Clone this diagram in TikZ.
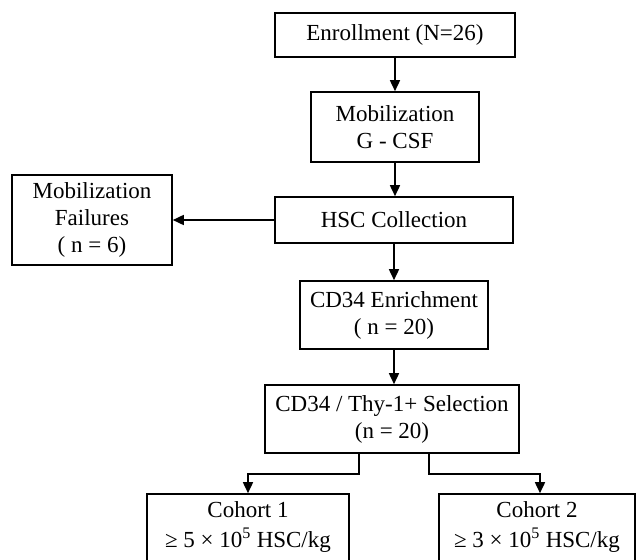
\documentclass[tikz,border=0pt]{standalone}
\usepackage{fontspec}
\setmainfont{Liberation Serif}
\usetikzlibrary{arrows.meta}
\begin{document}
\begin{tikzpicture}[x=1pt,y=-1pt,
  box/.style={draw=black, line width=1.6pt, rectangle, inner sep=0pt, align=center,
    font=\fontsize{23}{27}\selectfont, text=black},
  arr/.style={draw=black, line width=1.6pt, -{Triangle[length=11pt,width=10pt]}},
  lbl/.style={font=\fontsize{23}{30}\selectfont, align=center, anchor=north, inner sep=0pt, text=black},
  ]
\useasboundingbox (0,0) rectangle (638,560);
\clip (0,0) rectangle (638,560);
\node[box, minimum width=240pt, minimum height=44pt] (enroll) at (395,35) {Enrollment (N=26)};
\node[box, minimum width=168pt, minimum height=70pt] (mob) at (395,127) {Mobilization\\G - CSF};
\node[box, minimum width=238pt, minimum height=46pt] (hsc) at (394,220) {HSC Collection};
\node[box, minimum width=160pt, minimum height=90pt] (fail) at (92,220) {Mobilization\\Failures\\( n = 6)};
\node[box, minimum width=188pt, minimum height=68pt] (enrich) at (394,315) {CD34 Enrichment\\( n = 20)};
\node[box, minimum width=254pt, minimum height=68pt] (sel) at (392,419) {CD34 / Thy-1+ Selection\\(n = 20)};
\node[box, minimum width=202pt, minimum height=80pt] (c1) at (248,534) {};
\node[box, minimum width=196pt, minimum height=80pt] (c2) at (537,534) {};
\node[lbl] (c1t) at (248,501) {Cohort 1\\≥ 5 × 10\textsuperscript{5} HSC/kg};
\node[lbl] (c2t) at (537,501) {Cohort 2\\≥ 3 × 10\textsuperscript{5} HSC/kg};
\draw[arr] (enroll.south) -- (enroll.south |- mob.north);
\draw[arr] (mob.south) -- (mob.south |- hsc.north);
\draw[arr] (hsc.west) -- (fail.east |- hsc.west);
\draw[arr] (hsc.south) -- (hsc.south |- enrich.north);
\draw[arr] (enrich.south) -- (enrich.south |- sel.north);
\draw[arr] ([xshift=-33pt]sel.south) -- ++(0,20) -| (c1.north);
\draw[arr] ([xshift=37pt]sel.south) -- ++(0,20) -| ([xshift=3pt]c2.north);
\end{tikzpicture}
\end{document}
